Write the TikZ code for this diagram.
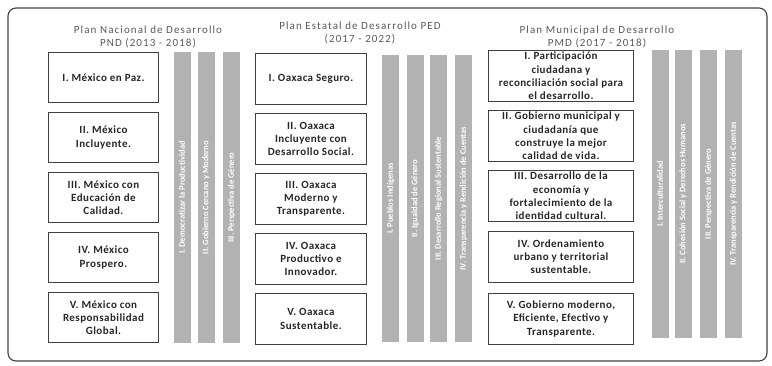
\documentclass[tikz,border=0pt]{standalone}
\usepackage{fontspec}
\setmainfont{Carlito}
\usetikzlibrary{positioning}
\begin{document}
\begin{tikzpicture}[
  x=1pt,y=-1pt,
  marco/.style={draw=black!75,line width=1.1pt,rounded corners=8pt},
  titulo/.style={align=center,font=\fontsize{11}{13}\selectfont\addfontfeatures{LetterSpace=10},text=black!65},
  eje/.style={draw=black!75,line width=0.9pt,anchor=north west,align=center,
    inner sep=1pt,font=\fontsize{11}{13.2}\selectfont\bfseries\addfontfeatures{LetterSpace=4},text=black!85},
  transversal/.style={fill=black!30,rotate=90,inner sep=0pt,minimum height=17pt,
    text=white,font=\fontsize{8.5}{8.5}\selectfont\bfseries}]
\useasboundingbox (0,0) rectangle (772,366);
\draw[marco] (8,8) rectangle (767,361);
\node[titulo] (tpnd) at (148,36.5) {Plan Nacional de Desarrollo\\PND (2013 - 2018)};
\node[titulo] (tped) at (360,32.5) {Plan Estatal de Desarrollo PED\\(2017 - 2022)};
\node[titulo] (tpmd) at (597,36.5) {Plan Municipal de Desarrollo\\PMD (2017 - 2018)};
\foreach \n/\y/\txt in {1/52/{I. México en Paz.},
    2/112/{II. México\\Incluyente.},
    3/172/{III. México con\\Educación de\\Calidad.},
    4/232/{IV. México\\Prospero.},
    5/292/{V. México con\\Responsabilidad\\Global.}}
  \node[eje,minimum width=110pt,minimum height=50pt] (pnd\n) at (48,\y) {\txt};
\foreach \n/\y/\txt in {1/53/{I. Oaxaca Seguro.},
    2/113/{II. Oaxaca\\Incluyente con\\Desarrollo Social.},
    3/173/{III. Oaxaca\\Moderno y\\Transparente.},
    4/233/{IV. Oaxaca\\Productivo e\\Innovador.},
    5/293/{V. Oaxaca\\Sustentable.}}
  \node[eje,minimum width=111pt,minimum height=51pt] (ped\n) at (255,\y) {\txt};
\foreach \n/\y/\txt in {1/50/{I. Participación\\ciudadana y\\reconciliación social para\\el desarrollo.},
    2/110/{II. Gobierno municipal y\\ciudadanía que\\construye la mejor\\calidad de vida.},
    3/170/{III. Desarrollo de la\\economía y\\fortalecimiento de la\\identidad cultural.},
    4/231/{IV. Ordenamiento\\urbano y territorial\\sustentable.},
    5/293/{V. Gobierno moderno,\\Eficiente, Efectivo y\\Transparente.}}
  \node[eje,minimum width=145pt,minimum height=51pt] (pmd\n) at (488,\y) {\txt};
\foreach \n/\x/\txt in {1/182/{I. Democratizar la Productividad},
    2/206/{II. Gobierno Cercano y Moderno},
    3/231.5/{III. Perspectiva de Género}}
  \node[transversal,minimum width=291pt] (tpnd\n) at (\x,197.5) {\txt};
\foreach \n/\x/\txt in {1/390.5/{I. Pueblos Indígenas},
    2/415/{II. Igualdad de Género},
    3/438.5/{III. Desarrollo Regional Sustentable},
    4/463.5/{IV. Transparencia y Rendición de Cuentas}}
  \node[transversal,minimum width=287pt] (tped\n) at (\x,198.5) {\txt};
\foreach \n/\x/\txt in {1/660/{I. Interculturalidad},
    2/683/{II. Cohesión Social y Derechos Humanos},
    3/708.5/{III. Perspectiva de Género},
    4/733.5/{IV. Transparencia y Rendición de Cuentas}}
  \node[transversal,minimum width=288pt] (tpmd\n) at (\x,194) {\txt};
\end{tikzpicture}
\end{document}
